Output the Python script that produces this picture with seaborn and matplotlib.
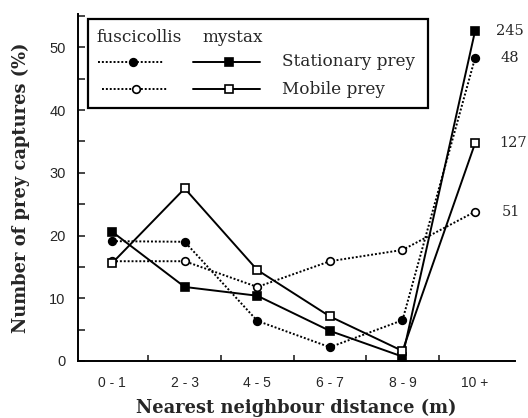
import numpy as np
import pandas as pd
import matplotlib
matplotlib.use("Agg")
import matplotlib.pyplot as plt
from matplotlib.lines import Line2D
from matplotlib.patches import Rectangle
import seaborn as sns

categories = ["0 - 1", "2 - 3", "4 - 5", "6 - 7", "8 - 9", "10 +"]
fusc_stationary = [19.1, 19.0, 6.4, 2.2, 6.5, 48.3]
fusc_mobile = [15.9, 15.9, 11.8, 15.9, 17.7, 23.8]
mystax_stationary = [20.6, 11.8, 10.4, 4.8, 0.7, 52.6]
mystax_mobile = [15.6, 27.5, 14.5, 7.1, 1.6, 34.7]
end_labels = ["48", "51", "245", "127"]
y_ticks = [0, 10, 20, 30, 40, 50]

sns.set_style("white")
SERIF = ["DejaVu Serif", "Liberation Serif"]
SANS = ["Liberation Sans", "DejaVu Sans"]
plt.rcParams["font.family"] = SERIF

W, H = 528, 418
fig = plt.figure(figsize=(W / 100, H / 100), dpi=100)
ax = fig.add_axes([78 / W, 1 - 361 / H, (515 - 78) / W, (361 - 14) / H])

xpos = np.arange(len(categories))
series = [
    (fusc_stationary, (0, (1, 1)), "o", "black"),
    (fusc_mobile, (0, (1, 1)), "o", "white"),
    (mystax_stationary, "-", "s", "black"),
    (mystax_mobile, "-", "s", "white"),
]
offsets = [25, 27, 21, 24]
for (vals, ls, mk, fc), lab, off in zip(series, end_labels, offsets):
    df = pd.DataFrame({"x": xpos, "y": vals})
    sns.lineplot(data=df, x="x", y="y", ax=ax, color="black", linestyle=ls,
                 linewidth=1.4, marker=mk, markersize=5.5, markerfacecolor=fc,
                 markeredgecolor="black", markeredgewidth=1.2, sort=False,
                 zorder=3)
    ax.annotate(lab, xy=(xpos[-1], vals[-1]), xytext=(off, 0),
                textcoords="offset pixels", ha="left", va="center",
                fontsize=10.5, family=SERIF)

ax.set_xlim(-0.47, 5.55)
ax.set_ylim(0, 55.3)
ax.set_xticks(xpos)
ax.set_xticklabels(categories, family=SANS, fontsize=10)
ax.set_xticks(xpos[:-1] + 0.5, minor=True)
ax.set_yticks(y_ticks)
ax.set_yticklabels([str(v) for v in y_ticks], family=SANS, fontsize=10.5)
ax.set_yticks([v + 5 for v in y_ticks], minor=True)
ax.tick_params(axis="x", which="major", length=0, pad=11)
ax.tick_params(axis="x", which="minor", direction="in", length=4, width=1.2, bottom=True)
ax.tick_params(axis="y", which="both", direction="in", length=5, width=1.2, pad=9, left=True)
for s in ["top", "right"]:
    ax.spines[s].set_visible(False)
for s in ["left", "bottom"]:
    ax.spines[s].set_linewidth(1.4)
    ax.spines[s].set_color("black")

ax.set_xlabel("Nearest neighbour distance (m)", fontsize=12.9, fontweight="bold", labelpad=6)
ax.set_ylabel("Number of prey captures (%)", fontsize=12.9, fontweight="bold", labelpad=14)

# legend drawn manually in figure pixel coordinates
def P(x, y):
    return (x / W, 1 - y / H)

x0, y0 = P(88, 108)
x1, y1 = P(428, 19)
fig.add_artist(Rectangle((x0, y0), x1 - x0, y1 - y0, transform=fig.transFigure,
                         facecolor="white", edgecolor="black", linewidth=1.6, zorder=5))
tx = dict(transform=fig.transFigure, fontsize=12.2, va="center", ha="left", zorder=6)
fig.text(*P(96, 38), "fuscicollis", **tx)
fig.text(*P(202, 38), "mystax", **tx)
fig.text(*P(282, 62), "Stationary prey", **tx)
fig.text(*P(282, 89), "Mobile prey", **tx)

rows = [(62, "black"), (89, "white")]
for (yy, fc), (xa, xb, xm) in zip(rows, [(98, 163, 133), (102, 167, 136)]):
    fig.add_artist(Line2D([xa / W, xb / W], [1 - yy / H] * 2, transform=fig.transFigure,
                          color="black", linestyle=(0, (1, 1)), linewidth=1.4, zorder=6))
    fig.add_artist(Line2D([xm / W], [1 - yy / H], transform=fig.transFigure, marker="o",
                          markersize=5.5, markerfacecolor=fc, markeredgecolor="black",
                          markeredgewidth=1.2, zorder=7))
    fig.add_artist(Line2D([193 / W, 260 / W], [1 - yy / H] * 2, transform=fig.transFigure,
                          color="black", linestyle="-", linewidth=1.4, zorder=6))
    fig.add_artist(Line2D([229 / W], [1 - yy / H], transform=fig.transFigure, marker="s",
                          markersize=5.5, markerfacecolor=fc, markeredgecolor="black",
                          markeredgewidth=1.2, zorder=7))

fig.savefig("out.png", dpi=100)
